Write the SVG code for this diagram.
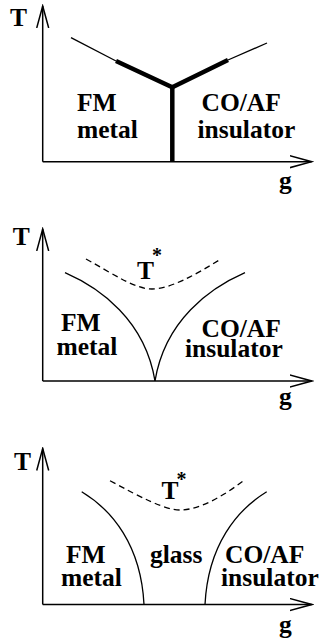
<svg xmlns="http://www.w3.org/2000/svg" width="333" height="641" viewBox="0 0 333 641">
<style>
.lbl{font-family:"Liberation Serif","Times New Roman",serif;font-weight:bold;font-size:25.5px;fill:#000}
.sup{font-size:20px}
.axis{stroke:#000;stroke-width:1.5;fill:none}
.thin{stroke:#000;stroke-width:1.3;fill:none}
.thick{stroke:#000;stroke-width:4.5;fill:none}
.dash{stroke:#000;stroke-width:1.3;fill:none;stroke-dasharray:6 4}
</style>
<defs>
<marker id="arr" markerUnits="userSpaceOnUse" markerWidth="24" markerHeight="14" refX="22" refY="7" orient="auto">
<path d="M0,1 L22,7 L0,13" fill="none" stroke="#000" stroke-width="1.5"/>
</marker>
</defs>
<rect width="333" height="641" fill="#fff"/>
<g id="axes">
<path class="axis" d="M42.7,161.7 V6" marker-end="url(#arr)"/>
<path class="axis" d="M42.7,161.7 H311.7" marker-end="url(#arr)"/>
<path class="axis" d="M42.7,381 V229" marker-end="url(#arr)"/>
<path class="axis" d="M42.7,381 H311.7" marker-end="url(#arr)"/>
<path class="axis" d="M42.7,604.5 V448.5" marker-end="url(#arr)"/>
<path class="axis" d="M42.7,604.5 H311.7" marker-end="url(#arr)"/>
</g>
<g id="connectors">
<path class="thin" d="M71,37.7 L116,61"/>
<path class="thick" d="M116,61 L172.3,87.3 L228,60"/>
<path class="thin" d="M228,60 L267,43"/>
<path class="thick" d="M172.3,87.3 V161.7"/>
<path class="thin" d="M65,272.7 C100,288 145,320 155,381"/>
<path class="thin" d="M245,272.7 C210,288 165,320 155,381"/>
<path class="dash" d="M86,259 C115,275 135,289 152,289 C170,289 195,275 221,259"/>
<path class="thin" d="M81.7,491.7 C112,510 141,545 144,604.5"/>
<path class="thin" d="M266.7,491.7 C237,510 208,545 205,604.5"/>
<path class="dash" d="M110,480.7 C140,497 165,510 180,510 C200,510 225,495 245,479.5"/>
</g>
<g id="panel1-labels">
<g id="p1-T"><text class="lbl" x="10" y="26">T</text></g>
<g id="p1-g"><text class="lbl" x="279" y="189">g</text></g>
<g id="p1-fm"><text class="lbl" x="77" y="111">FM<tspan x="77" y="138">metal</tspan></text></g>
<g id="p1-co"><text class="lbl" x="201.5" y="111">CO/AF<tspan x="197.5" y="138">insulator</tspan></text></g>
</g>
<g id="panel2-labels">
<g id="p2-T"><text class="lbl" x="12.7" y="245">T</text></g>
<g id="p2-Tstar"><text class="lbl" x="137" y="278.5">T<tspan class="sup" dx="-2" dy="-16.5">*</tspan></text></g>
<g id="p2-g"><text class="lbl" x="279" y="405">g</text></g>
<g id="p2-fm"><text class="lbl" x="61" y="331">FM<tspan x="56.5" y="355">metal</tspan></text></g>
<g id="p2-co"><text class="lbl" x="201.5" y="337">CO/AF<tspan x="185" y="357">insulator</tspan></text></g>
</g>
<g id="panel3-labels">
<g id="p3-T"><text class="lbl" x="14" y="470">T</text></g>
<g id="p3-Tstar"><text class="lbl" x="161.5" y="498.5">T<tspan class="sup" dx="-2" dy="-12.5">*</tspan></text></g>
<g id="p3-g"><text class="lbl" x="279" y="633">g</text></g>
<g id="p3-fm"><text class="lbl" x="66" y="563">FM<tspan x="61" y="586">metal</tspan></text></g>
<g id="p3-glass"><text class="lbl" x="150" y="563">glass</text></g>
<g id="p3-co"><text class="lbl" x="225" y="563">CO/AF<tspan x="221" y="586">insulator</tspan></text></g>
</g>
</svg>
